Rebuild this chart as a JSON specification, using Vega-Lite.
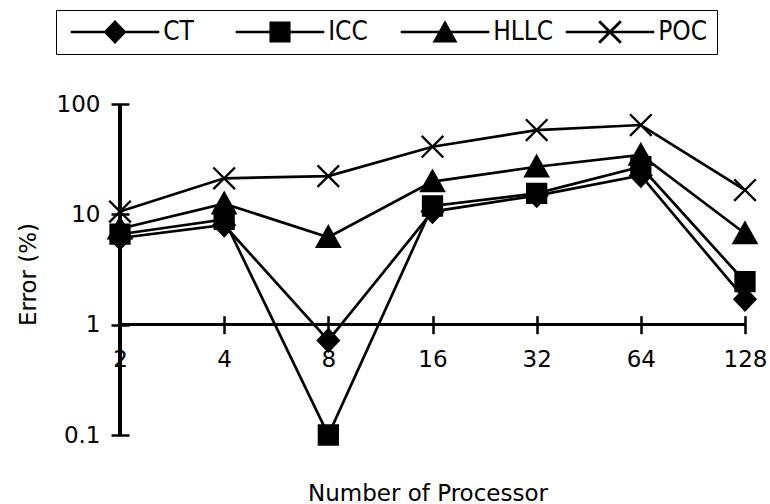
{
  "$schema": "https://vega.github.io/schema/vega-lite/v6.json",
  "width": 625,
  "height": 331,
  "autosize": {"type": "none"},
  "padding": {"left": 120, "top": 104, "right": 25, "bottom": 69},
  "background": "white",
  "config": {
    "view": {"stroke": null},
    "axis": {"labelFont": "DejaVu Sans", "titleFont": "DejaVu Sans", "labelColor": "black", "titleColor": "black", "tickColor": "black", "titleFontWeight": "normal", "grid": false}
  },
  "data": {
    "values": [
      {"p": "2", "series": "CT", "err": 6.1},
      {"p": "4", "series": "CT", "err": 8.0},
      {"p": "8", "series": "CT", "err": 0.72},
      {"p": "16", "series": "CT", "err": 10.6},
      {"p": "32", "series": "CT", "err": 14.8},
      {"p": "64", "series": "CT", "err": 22.5},
      {"p": "128", "series": "CT", "err": 1.7},
      {"p": "2", "series": "ICC", "err": 6.6},
      {"p": "4", "series": "ICC", "err": 9.0},
      {"p": "8", "series": "ICC", "err": 0.1},
      {"p": "16", "series": "ICC", "err": 11.9},
      {"p": "32", "series": "ICC", "err": 15.5},
      {"p": "64", "series": "ICC", "err": 27},
      {"p": "128", "series": "ICC", "err": 2.45},
      {"p": "2", "series": "HLLC", "err": 7.4},
      {"p": "4", "series": "HLLC", "err": 12.5},
      {"p": "8", "series": "HLLC", "err": 6.2},
      {"p": "16", "series": "HLLC", "err": 19.8},
      {"p": "32", "series": "HLLC", "err": 27},
      {"p": "64", "series": "HLLC", "err": 34.5},
      {"p": "128", "series": "HLLC", "err": 6.7},
      {"p": "2", "series": "POC", "err": 10.6},
      {"p": "4", "series": "POC", "err": 21.2},
      {"p": "8", "series": "POC", "err": 22.2},
      {"p": "16", "series": "POC", "err": 41},
      {"p": "32", "series": "POC", "err": 58},
      {"p": "64", "series": "POC", "err": 64.5},
      {"p": "128", "series": "POC", "err": 16.6}
    ]
  },
  "layer": [
    {
      "mark": {"type": "rule", "color": "black", "strokeWidth": 2.5},
      "encoding": {"y": {"datum": 1, "type": "quantitative", "scale": {"type": "log", "domain": [0.1, 100], "nice": false}}}
    },
    {
      "mark": {"type": "rule", "color": "black", "strokeWidth": 2.5},
      "encoding": {"x": {"datum": "2", "type": "ordinal", "scale": {"type": "point", "padding": 0, "domain": ["2", "4", "8", "16", "32", "64", "128"]}}}
    },
    {
      "mark": {"type": "line", "color": "black", "strokeWidth": 2.7},
      "encoding": {
        "x": {
          "field": "p", "type": "ordinal",
          "scale": {"type": "point", "padding": 0, "domain": ["2", "4", "8", "16", "32", "64", "128"]},
          "title": "Number of Processor",
          "axis": {
            "orient": "bottom", "offset": -119.3, "domain": false, "tickSize": 18, "tickWidth": 2.5,
            "labelAngle": 0, "labelFontSize": 23, "labelPadding": 26, "labelFlush": false, "labelAlign": "center", "labelOverlap": false,
            "titleFontSize": 23, "titleX": 307.5, "titleY": 184.3, "titleBaseline": "alphabetic"
          }
        },
        "y": {
          "field": "err", "type": "quantitative",
          "scale": {"type": "log", "domain": [0.1, 100], "nice": false},
          "title": "Error (%)",
          "axis": {
            "values": [0.1, 1, 10, 100], "format": "~g", "offset": -9, "domain": false,
            "tickSize": 18, "tickWidth": 2.5, "labelFontSize": 23, "labelPadding": 11, "labelFlush": false,
            "titleFontSize": 23, "titleX": -89, "titleY": 170, "titleAngle": -90, "titleBaseline": "bottom", "titleAlign": "center"
          }
        },
        "detail": {"field": "series"}
      }
    },
    {
      "mark": {"type": "point", "fill": "black", "stroke": "black", "strokeWidth": 2.3, "size": 576, "opacity": 1},
      "encoding": {
        "x": {"field": "p", "type": "ordinal"},
        "y": {"field": "err", "type": "quantitative"},
        "shape": {
          "field": "series", "type": "nominal",
          "scale": {
            "domain": ["CT", "ICC", "HLLC", "POC"],
            "range": [
              "M0,-0.92L0.875,0L0,0.92L-0.875,0Z",
              "M-0.79,-0.79L0.79,-0.79L0.79,0.79L-0.79,0.79Z",
              "M0,-0.9L0.95,0.8L-0.95,0.8Z",
              "M-0.9,-0.9L0.9,0.9M-0.9,0.9L0.9,-0.9"
            ]
          },
          "legend": null
        }
      }
    },
    {
      "mark": {"type": "point", "fill": "black", "stroke": "black", "strokeWidth": 0, "size": 0},
      "encoding": {
        "x": {"field": "p", "type": "ordinal"},
        "y": {"field": "err", "type": "quantitative"},
        "shape": {
          "field": "series", "type": "nominal",
          "scale": {
            "domain": ["CT", "ICC", "HLLC", "POC"],
            "range": [
              "M-3.69,-0.1L3.69,-0.1L3.69,0.1L-3.69,0.1ZM0,-1L0.96,0L0,1L-0.96,0Z",
              "M-3.69,-0.1L3.69,-0.1L3.69,0.1L-3.69,0.1ZM-0.88,-0.88L0.88,-0.88L0.88,0.88L-0.88,0.88Z",
              "M-3.69,-0.1L3.69,-0.1L3.69,0.1L-3.69,0.1ZM0,-0.98L1.04,0.88L-1.04,0.88Z",
              "M-3.69,-0.1L3.69,-0.1L3.69,0.1L-3.69,0.1ZM-0.815,-0.985L0.985,0.815L0.815,0.985L-0.985,-0.815ZM-0.985,0.815L0.815,-0.985L0.985,-0.815L-0.815,0.985Z"
            ]
          },
          "legend": {
            "title": null, "orient": "none", "legendX": -64, "legendY": -94, "direction": "horizontal",
            "gridAlign": "all", "columnPadding": 6, "padding": 9,
            "strokeColor": "black", "fillColor": "white",
            "symbolSize": 576, "symbolOpacity": 1, "symbolFillColor": "black", "symbolStrokeColor": "black", "symbolStrokeWidth": 0,
            "symbolOffset": 37, "labelOffset": 35.2,
            "labelFont": "Liberation Sans Narrow, DejaVu Sans Condensed, sans-serif", "labelFontSize": 26, "labelColor": "black",
            "encode": {
              "legend": {"strokeWidth": {"value": 2.2}}
            }
          }
        }
      }
    }
  ],
  "resolve": {"scale": {"shape": "independent"}}
}
